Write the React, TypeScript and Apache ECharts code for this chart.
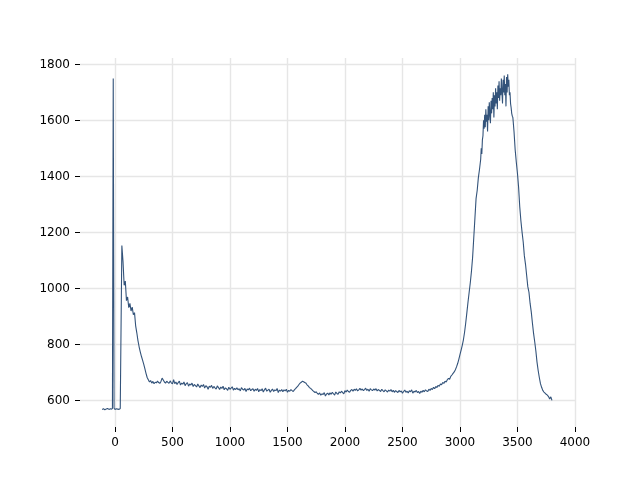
import React, { useEffect, useRef } from "react";
import * as echarts from "echarts";

// Leading section: explicit x positions and values
const headX = [-112, -100, -88, -76, -64, -52, -40, -30, -22, -15, -8, 0, 12, 24, 36, 46];
const headY = [566, 568, 565, 567, 569, 566, 568, 567, 569, 1750, 570, 566, 568, 567, 566, 569];

// Body sampled every 10 units from x = 60 to x = 3170
const bodyStartX = 60;
const bodyStepX = 10;
const bodyY = [
  1152, 1095, 1010, 1025, 955, 968, 930, 945, 918, 932, 905, 912, 865, 840, 812, 790, 772, 756, 742, 728,
  712, 695, 680, 672, 664, 669, 660, 666, 658, 663, 661, 667, 662, 659, 666, 678, 671, 664, 660, 667,
  663, 659, 668, 661, 657, 672, 658, 664, 655, 662, 667, 653, 660, 656, 664, 651, 658, 662, 649, 657,
  653, 660, 648, 655, 651, 646, 657, 650, 644, 653, 648, 655, 642, 651, 647, 638, 649, 645, 652, 641,
  648, 643, 639, 650, 644, 637, 646, 641, 649, 636, 643, 640, 634, 645, 638, 642, 647, 635, 641, 637,
  643, 636, 640, 632, 644, 638, 635, 641, 630, 639, 636, 642, 633, 637, 640, 631, 638, 634, 641, 629,
  637, 633, 640, 628, 636, 642, 631, 635, 638, 627, 634, 639, 630, 636, 633, 641, 626, 635, 631, 637,
  629, 636, 632, 638, 627, 634, 631, 637, 633, 630, 636, 640, 645, 649, 655, 660, 663, 667, 665, 662,
  660, 654, 650, 645, 641, 638, 633, 630, 626, 629, 623, 620, 625, 617, 622, 619, 626, 614, 621, 624,
  618, 625, 620, 627, 622, 617, 628, 623, 620, 629, 625, 631, 626, 622, 633, 628, 635, 630, 627, 634,
  637, 631, 638, 634, 640, 632, 636, 641, 635, 639, 633, 637, 642, 634, 638, 631, 640, 636, 633, 639,
  635, 640, 632, 637, 634, 630, 638, 633, 629, 636, 632, 628, 635, 631, 637, 629, 634, 627, 633, 630,
  626, 634, 629, 632, 624, 630, 635, 627, 631, 625, 633, 629, 636, 624, 631, 628, 634, 626, 630, 623,
  631, 627, 634, 629, 636, 632, 630, 638, 634, 641, 637, 645, 640, 648, 644, 652, 649, 657, 654, 662,
  659, 667, 664, 672, 677, 674, 684, 689, 695, 700, 708, 718, 730, 745, 762, 778, 795, 815, 842, 875,
  912, 950, 985, 1020, 1060, 1110, 1180, 1250, 1320, 1350, 1395, 1425,
];

// Peak sampled every 5 units from x = 3180 to x = 3455
const peakStartX = 3180;
const peakStepX = 5;
const peakY = [
  1460, 1500, 1480, 1530, 1545, 1600, 1570, 1620, 1575, 1640, 1595, 1620, 1560, 1650, 1600, 1665,
  1620, 1590, 1670, 1625, 1680, 1640, 1700, 1610, 1690, 1650, 1715, 1660, 1700, 1640, 1725, 1680,
  1740, 1670, 1715, 1690, 1750, 1700, 1660, 1745, 1700, 1760, 1690, 1730, 1650, 1755, 1700, 1765,
  1720, 1745, 1690, 1700, 1660, 1645, 1625, 1615,
];

// Tail sampled every 10 units from x = 3460 to x = 3800
const tailStartX = 3460;
const tailStepX = 10;
const tailY = [
  1610, 1560, 1495, 1450, 1410, 1360, 1290, 1240, 1200, 1165, 1115, 1085, 1045, 1005, 985, 945, 915, 875, 838, 808,
  775, 735, 705, 680, 658, 645, 634, 628, 624, 620, 617, 612, 603, 611, 598,
];

const xTicks = [0, 500, 1000, 1500, 2000, 2500, 3000, 3500, 4000];
const yTicks = [600, 800, 1000, 1200, 1400, 1600, 1800];

export default function App() {
  const ref = useRef<HTMLDivElement>(null);

  useEffect(() => {
    if (!ref.current) return;
    const chart = echarts.init(ref.current, null, { renderer: "svg" });

    const data: [number, number][] = [];
    headX.forEach((x, i) => data.push([x, headY[i]]));
    bodyY.forEach((y, i) => data.push([bodyStartX + bodyStepX * i, y]));
    peakY.forEach((y, i) => data.push([peakStartX + peakStepX * i, y]));
    tailY.forEach((y, i) => data.push([tailStartX + tailStepX * i, y]));

    const font = "DejaVu Sans";
    const gridLine = { show: true, lineStyle: { color: "#e6e6e6", width: 1.4 } };
    const plain = (v: number) => String(v);

    chart.setOption({
      animation: false,
      grid: { left: 80, right: 64, top: 58, bottom: 53 },
      xAxis: {
        type: "value",
        min: -304,
        max: 4009,
        axisLine: { show: false, onZero: false },
        axisTick: {
          show: true,
          length: 5,
          customValues: xTicks,
          lineStyle: { color: "#000", width: 1 },
        },
        axisLabel: {
          customValues: xTicks,
          formatter: plain,
          color: "#000",
          fontSize: 12,
          fontFamily: font,
          margin: 9,
        },
        splitLine: gridLine,
      },
      yAxis: {
        type: "value",
        min: 503,
        max: 1823,
        axisLine: { show: false, onZero: false },
        axisTick: {
          show: true,
          length: 5,
          customValues: yTicks,
          lineStyle: { color: "#000", width: 1 },
        },
        axisLabel: {
          customValues: yTicks,
          formatter: plain,
          color: "#000",
          fontSize: 12,
          fontFamily: font,
          margin: 10,
        },
        splitLine: gridLine,
      },
      series: [
        {
          type: "line",
          data,
          showSymbol: false,
          lineStyle: { color: "#33537a", width: 1.1 },
        },
      ],
    });

    return () => chart.dispose();
  }, []);

  return (
    <div
      ref={ref}
      style={{ position: "fixed", left: 0, top: 0, width: 640, height: 480 }}
    />
  );
}
